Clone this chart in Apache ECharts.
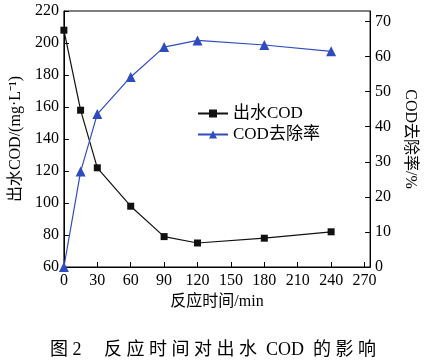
<!DOCTYPE html>
<html><head><meta charset="utf-8">
<script src="https://cdn.jsdelivr.net/npm/echarts@6/dist/echarts.min.js"></script>
<style>html,body{margin:0;padding:0;background:#fff}#c{width:426px;height:360px}</style>
</head><body><div id="c"></div>
<script>
const times = [0, 15, 30, 60, 90, 120, 180, 240];
const codOut = [208, 158, 122, 98, 79, 75, 78, 82];
const removal = [0, 27.2, 43.6, 54.2, 62.7, 64.6, 63.3, 61.5];
const seriesNames = ['出水COD', 'COD去除率'];
const xName = '反应时间/min';
const yLeftName = '出水COD/(mg·L⁻¹)';
const yRightName = 'COD去除率/%';
const caption = '图 2　 反 应 时 间 对 出 水  COD  的 影 响';

const FONT = "'Liberation Serif','Noto Sans CJK SC',serif";
const chart = echarts.init(document.getElementById('c'), null, {renderer: 'canvas'});
const axisCommon = {
  axisLine: {show: true, lineStyle: {color: '#000', width: 1}},
  axisTick: {show: true, inside: true, length: 5, lineStyle: {color: '#000'}},
  splitLine: {show: false},
  axisLabel: {color: '#000', fontFamily: FONT, fontSize: 16, showMaxLabel: false},
  nameTextStyle: {color: '#000', fontFamily: FONT, fontSize: 16}
};
chart.setOption({
  animation: false,
  textStyle: {fontFamily: FONT},
  grid: {left: 60, right: 49, top: 11, bottom: 93, show: true, borderColor: '#000', borderWidth: 1},
  title: {text: caption, left: 'center', top: 336, textStyle: {fontFamily: FONT, fontSize: 18, fontWeight: 'normal', color: '#000'}},
  legend: {
    orient: 'vertical', left: 192, top: 100, itemWidth: 30, itemHeight: 10, itemGap: 4,
    textStyle: {fontFamily: FONT, fontSize: 17, color: '#000'},
    data: seriesNames
  },
  xAxis: Object.assign({}, axisCommon, {
    type: 'value', min: 0, max: 275, interval: 30,
    name: xName, nameLocation: 'middle', nameGap: 25,
    axisLabel: Object.assign({}, axisCommon.axisLabel, {margin: 6})
  }),
  yAxis: [
    Object.assign({}, axisCommon, {
      type: 'value', min: 60, max: 220, interval: 20, position: 'left',
      name: yLeftName, nameLocation: 'middle', nameGap: 39,
      axisLabel: Object.assign({}, axisCommon.axisLabel, {showMaxLabel: true, margin: 5})
    }),
    Object.assign({}, axisCommon, {
      type: 'value', min: 0, max: 73, interval: 10, position: 'right',
      name: yRightName, nameLocation: 'middle', nameGap: 26, nameRotate: -90,
      axisLabel: Object.assign({}, axisCommon.axisLabel, {margin: 5})
    })
  ],
  series: [
    {name: seriesNames[0], type: 'line', yAxisIndex: 0, data: times.map((t, i) => [t, codOut[i]]),
     symbol: 'rect', symbolSize: 7, color: '#111', lineStyle: {color: '#111', width: 1.2}, itemStyle: {color: '#111'}},
    {name: seriesNames[1], type: 'line', yAxisIndex: 1, data: times.map((t, i) => [t, removal[i]]),
     symbol: 'triangle', symbolSize: 10, color: '#2f4cbf', lineStyle: {color: '#2f4cbf', width: 1.2}, itemStyle: {color: '#2f4cbf'}}
  ]
});
</script></body></html>
